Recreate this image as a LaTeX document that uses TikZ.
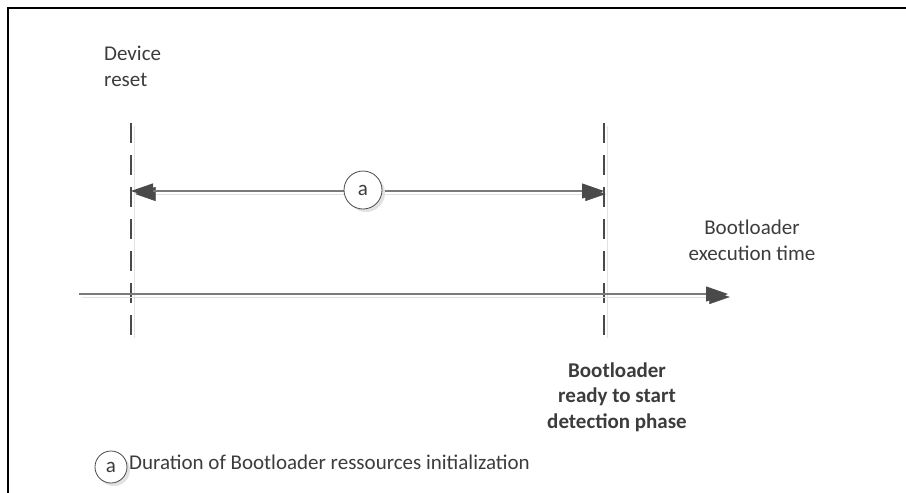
\documentclass[tikz,border=0pt]{standalone}
\usepackage{fontspec}
\setmainfont{Carlito}
\usepackage{tikz}
\usetikzlibrary{arrows.meta}

\definecolor{ink}{HTML}{4A4A4A}
\definecolor{rule}{HTML}{7A7A7A}
\definecolor{shade}{HTML}{E2E2E2}
\definecolor{words}{HTML}{3C3C3C}

\tikzset{
  castshadow/.style={preaction={draw=shade, transform canvas={shift={(3pt,-3pt)}}}},
  marker/.style={ink, line width=2.4pt, dash pattern=on 20pt off 12pt, castshadow},
  timeline/.style={rule, line width=1.2pt, castshadow},
  tip/.style={-{Triangle[length=22pt, width=15pt, color=ink]}},
  bothtips/.style={{Triangle[length=22pt, width=15pt, color=ink]}-{Triangle[length=22pt, width=15pt, color=ink]}},
  tag/.style={circle, draw=ink, fill=white, line width=0.8pt, inner sep=0pt, text=words,
    preaction={fill=shade, transform canvas={shift={(3pt,-3pt)}}}},
  txt/.style={text=words, inner sep=0pt, font=\fontsize{21}{25.5}\selectfont},
}

\begin{document}
\begin{tikzpicture}[x=1pt, y=-1pt]
\useasboundingbox (0,0) rectangle (906,493);
% frame, cut at the right and at the bottom
\draw[black, line width=2.5pt] (8,493) -- (8,8) -- (906,8);

% event markers
\coordinate (resettop) at (131,123);
\coordinate (resetbot) at (131,335);
\coordinate (readytop) at (604,123);
\coordinate (readybot) at (604,335);
\draw[marker] (resettop) -- (resetbot);
\draw[marker] (readytop) -- (readybot);

% time axis
\coordinate (axisstart) at (79,294);
\coordinate (axisend) at (728,294);
\draw[timeline, tip] (axisstart) -- (axisend);

% duration a
\coordinate (durstart) at (131,191);
\coordinate (durend) at (604,191);
\draw[timeline, bothtips] (durstart) -- (durend);
\node[tag, minimum size=38pt, txt] (durtag) at (363,190) {a};

% labels (base = baseline of the last line)
\node[txt, anchor=base west, align=left] (resetlbl) at (104,86) {Device\\reset};
\node[txt, anchor=base, align=center] (execlbl) at (752,260) {Bootloader\\execution time};
\node[txt, anchor=base, align=center, font=\fontsize{21}{25.5}\selectfont\bfseries] (readylbl) at (617,428)
  {Bootloader\\ready to start\\detection phase};

% legend
\node[tag, minimum size=32pt, txt] (legtag) at (111,467) {a};
\node[txt, anchor=base west] (legtxt) at (129,469) {Duration of Bootloader ressources initialization};
\end{tikzpicture}
\end{document}
